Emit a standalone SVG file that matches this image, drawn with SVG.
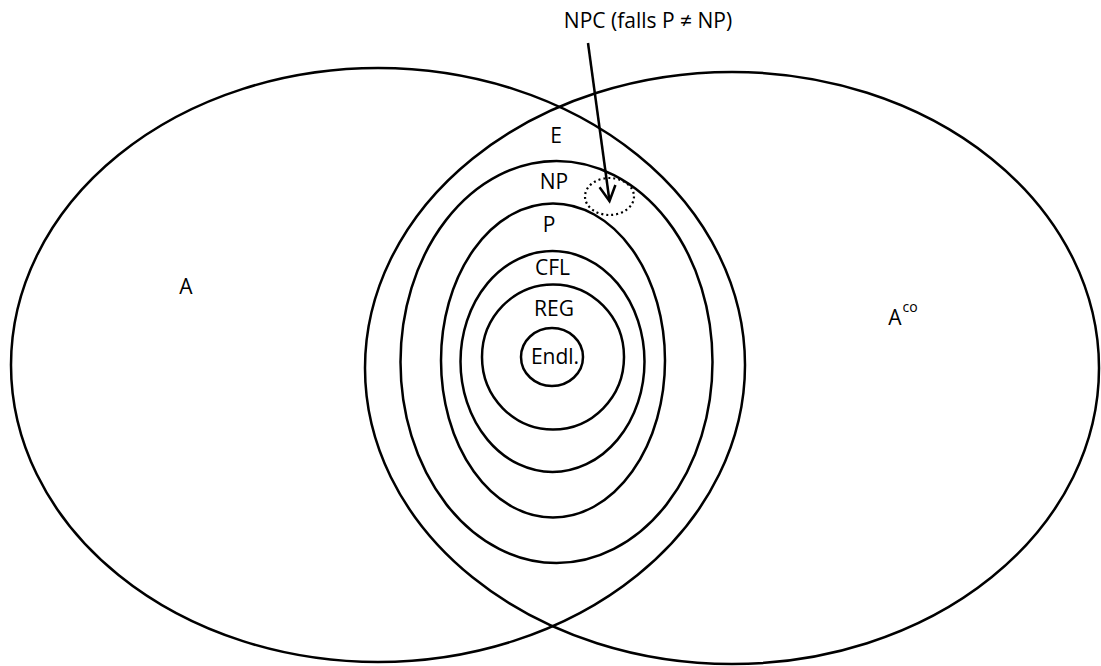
<svg xmlns="http://www.w3.org/2000/svg" width="1101" height="666" viewBox="0 0 1101 666">
<defs>
<style>
.set{fill:none;stroke:#000;stroke-width:2.5}
.lbl{font-family:"Open Sans","Noto Sans",sans-serif;font-size:21px;fill:#000;text-anchor:middle}
.dot{fill:none;stroke:#000;stroke-width:2.2;stroke-dasharray:2 3}
.conn{fill:none;stroke:#000;stroke-width:2.5}
</style>
<marker id="arr" viewBox="0 0 20 20" refX="16" refY="10" markerWidth="20" markerHeight="20" markerUnits="userSpaceOnUse" orient="auto">
<path d="M1,2 L16,10 L1,18" fill="none" stroke="#000" stroke-width="2.5"/>
</marker>
</defs>
<rect width="1101" height="666" fill="#fff"/>
<g id="A">
<ellipse class="set" cx="378" cy="365" rx="367" ry="297"/>
<text class="lbl" x="186" y="294">A</text>
</g>
<g id="Aco">
<ellipse class="set" cx="732" cy="368" rx="367" ry="296"/>
<text class="lbl" x="895" y="325">A</text>
<text x="910" y="312" style="font-family:'Open Sans','Noto Sans',sans-serif;font-size:14px;fill:#000;text-anchor:middle">co</text>
</g>
<g id="E">
<text class="lbl" x="556" y="143">E</text>
</g>
<g id="NP">
<ellipse class="set" cx="556.5" cy="362" rx="156" ry="201"/>
<text class="lbl" x="554" y="189">NP</text>
</g>
<g id="P">
<ellipse class="set" cx="553" cy="360.5" rx="112" ry="157"/>
<text class="lbl" x="549" y="232">P</text>
</g>
<g id="CFL">
<ellipse class="set" cx="552.5" cy="361.5" rx="92" ry="110.5"/>
<text class="lbl" x="552.5" y="275">CFL</text>
</g>
<g id="REG">
<ellipse class="set" cx="553" cy="357" rx="71" ry="72.5"/>
<text class="lbl" x="554" y="316">REG</text>
</g>
<g id="Endl">
<ellipse class="set" cx="552" cy="357" rx="31" ry="29"/>
<text class="lbl" x="555" y="364">Endl.</text>
</g>
<g id="NPC">
<ellipse class="dot" cx="609.5" cy="196.5" rx="24.5" ry="18.5"/>
<text class="lbl" x="648" y="28">NPC (falls P ≠ NP)</text>
</g>
<g id="connectors">
<line class="conn" x1="588" y1="43" x2="609.5" y2="201" marker-end="url(#arr)"/>
</g>
</svg>
